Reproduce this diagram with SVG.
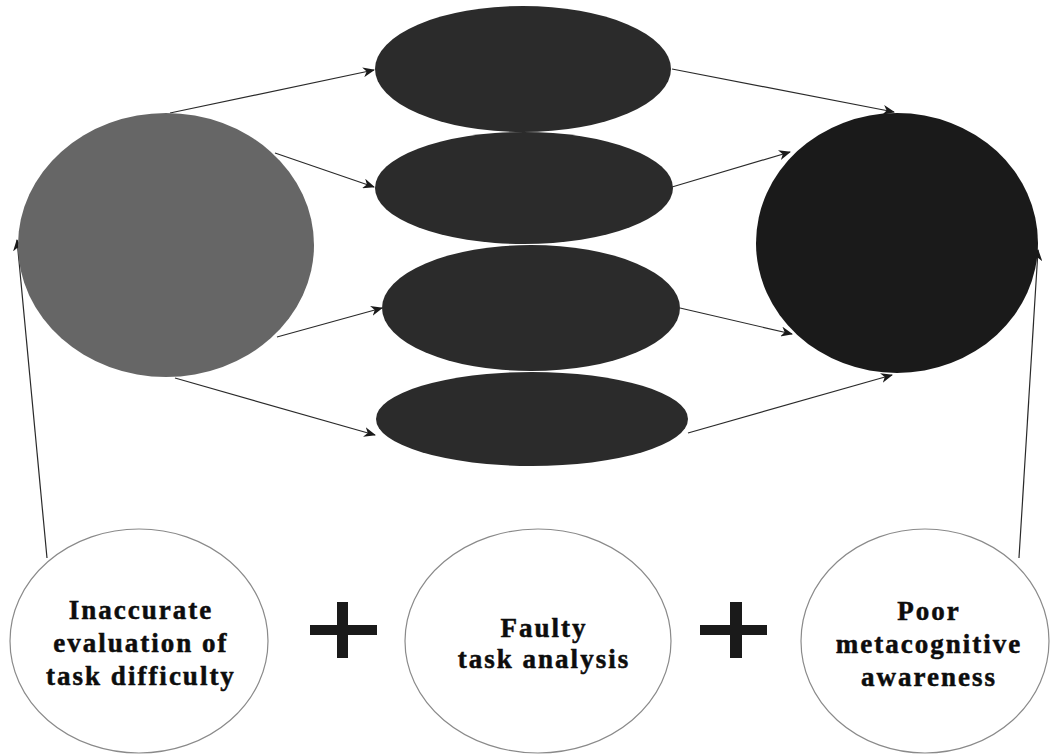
<svg xmlns="http://www.w3.org/2000/svg" width="1051" height="755" viewBox="0 0 1051 755">
<style>
.lbl{font-family:"Liberation Serif","Times New Roman",serif;font-weight:bold;font-size:27px;letter-spacing:2px;fill:#0d0d0d;stroke:#0d0d0d;stroke-width:0.5;text-anchor:middle}
.conn{stroke:#2a2a2a;stroke-width:1.2;fill:none;marker-end:url(#arr)}
.cause{fill:#fff;stroke:#8a8a8a;stroke-width:1.2}
.plus{fill:#1a1a1a}
</style>
<defs>
<marker id="arr" viewBox="0 0 12 10" refX="11" refY="5" markerWidth="12" markerHeight="10" markerUnits="userSpaceOnUse" orient="auto">
<path d="M0,0 L12,5 L0,10 L3.5,5 z" fill="#1a1a1a"/>
</marker>
</defs>
<rect width="1051" height="755" fill="#fff"/>

<g id="connectors">
<line class="conn" x1="170" y1="113" x2="374" y2="70"/>
<line class="conn" x1="275" y1="153" x2="374" y2="187"/>
<line class="conn" x1="277" y1="337" x2="382" y2="308"/>
<line class="conn" x1="175" y1="378" x2="375" y2="435"/>
<line class="conn" x1="672" y1="69" x2="894" y2="112"/>
<line class="conn" x1="672" y1="187" x2="790" y2="152"/>
<line class="conn" x1="680" y1="308" x2="792" y2="334"/>
<line class="conn" x1="688" y1="433" x2="892" y2="375"/>
<line class="conn" x1="47" y1="558" x2="17" y2="240"/>
<line class="conn" x1="1019" y1="558" x2="1038" y2="250"/>
</g>

<g id="left-circle"><ellipse cx="166" cy="245" rx="148" ry="132" fill="#666"/></g>
<g id="mid-1"><ellipse cx="523" cy="69" rx="148" ry="63" fill="#2b2b2b"/></g>
<g id="mid-2"><ellipse cx="524" cy="188" rx="149" ry="56" fill="#2b2b2b"/></g>
<g id="mid-3"><ellipse cx="531" cy="308" rx="149" ry="63" fill="#2b2b2b"/></g>
<g id="mid-4"><ellipse cx="532" cy="419" rx="156" ry="47" fill="#2b2b2b"/></g>
<g id="right-circle"><ellipse cx="897" cy="243" rx="141" ry="130" fill="#1a1a1a"/></g>

<g id="cause-1">
<ellipse class="cause" cx="139" cy="641" rx="129" ry="112"/>
<text class="lbl" x="141" y="619">Inaccurate</text>
<text class="lbl" x="141" y="652">evaluation of</text>
<text class="lbl" x="141" y="685">task difficulty</text>
</g>
<g id="plus-1">
<rect class="plus" x="337" y="602" width="11" height="56"/>
<rect class="plus" x="310" y="625" width="67" height="10"/>
</g>
<g id="cause-2">
<ellipse class="cause" cx="538" cy="641" rx="133" ry="112"/>
<text class="lbl" x="544" y="637">Faulty</text>
<text class="lbl" x="544" y="668">task analysis</text>
</g>
<g id="plus-2">
<rect class="plus" x="730" y="602" width="12" height="56"/>
<rect class="plus" x="700" y="625" width="67" height="10"/>
</g>
<g id="cause-3">
<ellipse class="cause" cx="925" cy="641" rx="124" ry="112"/>
<text class="lbl" x="929" y="620">Poor</text>
<text class="lbl" x="929" y="653">metacognitive</text>
<text class="lbl" x="929" y="686">awareness</text>
</g>
</svg>
